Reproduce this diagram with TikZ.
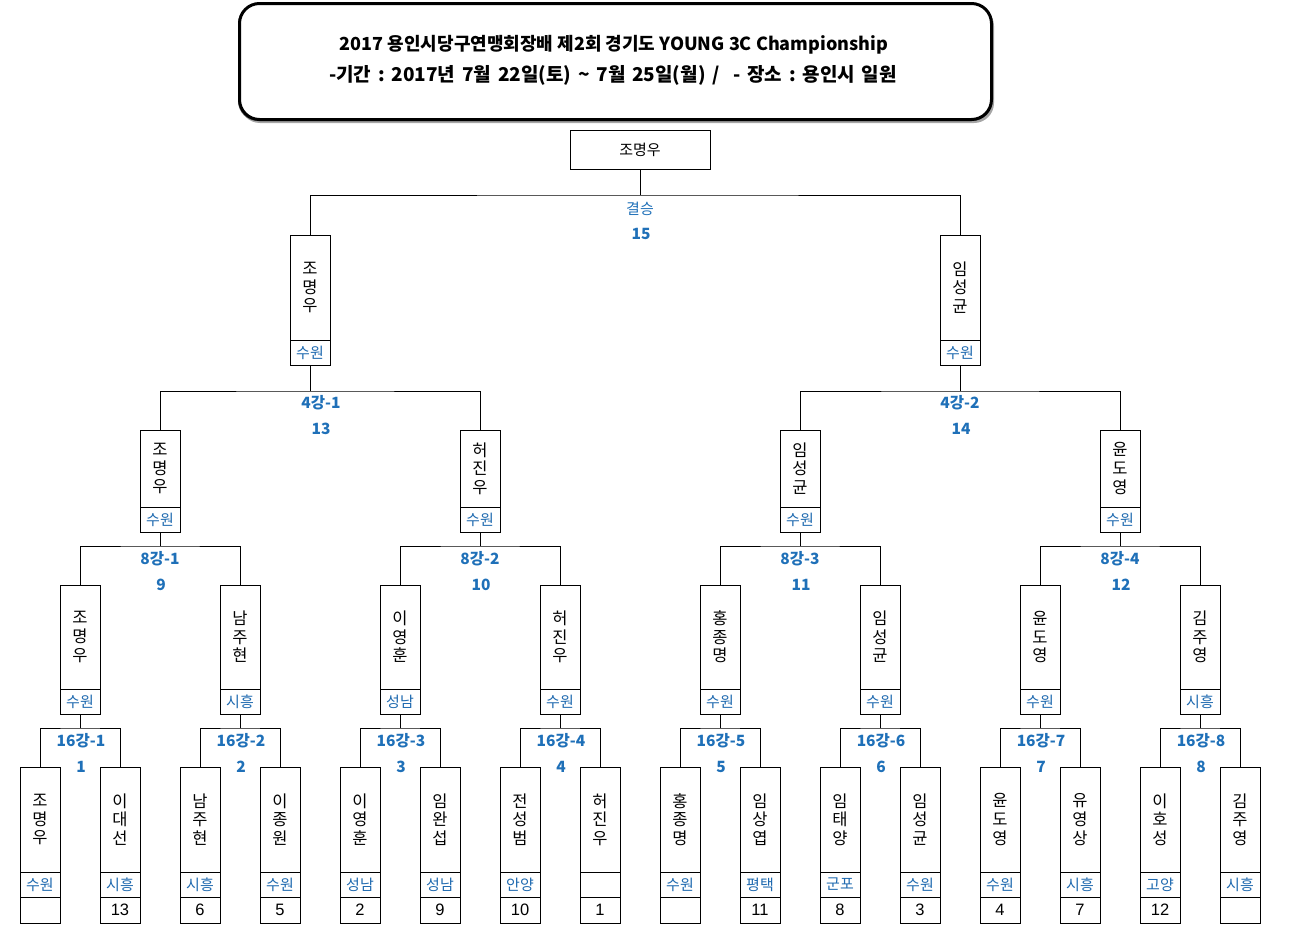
\documentclass[tikz,border=0pt]{standalone}
\usepackage{fontspec}
\setmainfont{Liberation Sans}
\newfontfamily\kr{Noto Sans CJK KR}
\newcommand\wsp{\hspace{6.8pt}}
\definecolor{lblue}{RGB}{31,112,184}
\definecolor{rblue}{RGB}{30,105,175}
\tikzset{
  base/.style={draw=black, line width=1pt, inner sep=0pt, outer sep=0pt, minimum width=40},
  namebox/.style={base, anchor=north, align=center, font=\kr\fontsize{16.5}{18.6}\selectfont},
  regbox/.style={base, anchor=north, minimum height=25, text=rblue, font=\kr\fontsize{15}{16}\selectfont},
  seedbox/.style={base, anchor=north, minimum height=26, font=\fontsize{16.5}{17}\selectfont},
  rlabel/.style={text=lblue, font=\kr\bfseries\fontsize{15.5}{17}\selectfont, inner sep=0pt},
  rlabelthin/.style={text=lblue, font=\kr\fontsize{15}{17}\selectfont, inner sep=0pt},
  wire/.style={line width=1pt, draw=black},
}
\newcommand\pbox[6]{%
  \node[namebox, minimum height=#4] (#1) at (#2,#3) {#5};
  \node[regbox] (#1r) at (#1.south) {#6};
}
\newcommand\seedb[2]{\node[seedbox] (#1s) at (#1r.south) {#2};}
\begin{document}
\begin{tikzpicture}[x=1pt,y=-1pt]
\useasboundingbox (0,0) rectangle (1291,937);
% title
\fill[black!35, rounded corners=20] (240,6) rectangle (994,123);
\fill[black!60, rounded corners=20] (238,4) rectangle (992,121);
\node[draw=black, line width=3pt, fill=white, rounded corners=20, minimum width=752, minimum height=116, anchor=north west, inner sep=0pt] (title) at (238,2) {};
\node[font=\kr\bfseries\fontsize{18}{20}\selectfont, inner sep=0pt] (t1) at (614,45) {2017 용인시당구연맹회장배 제2회 경기도 YOUNG 3C Championship};
\node[font=\kr\bfseries\fontsize{19}{20}\selectfont, inner sep=0pt] (t2) at (613,75) {-기간\wsp{}:\wsp{}2017년\wsp{}7월\wsp{}22일(토)\wsp{}\char"007E\wsp{}7월\wsp{}25일(월)\wsp{}/\wsp{}\wsp{}-\wsp{}장소\wsp{}:\wsp{}용인시\wsp{}일원};
% champion
\node[base, minimum width=140, minimum height=39, font=\kr\fontsize{15}{17}\selectfont] (champ) at (640,149.5) {조명우};
% semis
\pbox{S1}{310}{235}{105}{조\\명\\우}{수원}
\pbox{S2}{960}{235}{105}{임\\성\\균}{수원}
% quarter (4강)
\pbox{Q1}{160}{430}{77}{조\\명\\우}{수원}
\pbox{Q2}{480}{430}{77}{허\\진\\우}{수원}
\pbox{Q3}{800}{430}{77}{임\\성\\균}{수원}
\pbox{Q4}{1120}{430}{77}{윤\\도\\영}{수원}
% 8강
\pbox{E1}{80}{585}{104}{조\\명\\우}{수원}
\pbox{E2}{240}{585}{104}{남\\주\\현}{시흥}
\pbox{E3}{400}{585}{104}{이\\영\\훈}{성남}
\pbox{E4}{560}{585}{104}{허\\진\\우}{수원}
\pbox{E5}{720}{585}{104}{홍\\종\\명}{수원}
\pbox{E6}{880}{585}{104}{임\\성\\균}{수원}
\pbox{E7}{1040}{585}{104}{윤\\도\\영}{수원}
\pbox{E8}{1200}{585}{104}{김\\주\\영}{시흥}
% 16강 leaves
\pbox{L1}{40}{767}{105}{조\\명\\우}{수원}\seedb{L1}{}
\pbox{L2}{120}{767}{105}{이\\대\\선}{시흥}\seedb{L2}{13}
\pbox{L3}{200}{767}{105}{남\\주\\현}{시흥}\seedb{L3}{6}
\pbox{L4}{280}{767}{105}{이\\종\\원}{수원}\seedb{L4}{5}
\pbox{L5}{360}{767}{105}{이\\영\\훈}{성남}\seedb{L5}{2}
\pbox{L6}{440}{767}{105}{임\\완\\섭}{성남}\seedb{L6}{9}
\pbox{L7}{520}{767}{105}{전\\성\\범}{안양}\seedb{L7}{10}
\pbox{L8}{600}{767}{105}{허\\진\\우}{}\seedb{L8}{1}
\pbox{L9}{680}{767}{105}{홍\\종\\명}{수원}\seedb{L9}{}
\pbox{L10}{760}{767}{105}{임\\상\\엽}{평택}\seedb{L10}{11}
\pbox{L11}{840}{767}{105}{임\\태\\양}{군포}\seedb{L11}{8}
\pbox{L12}{920}{767}{105}{임\\성\\균}{수원}\seedb{L12}{3}
\pbox{L13}{1000}{767}{105}{윤\\도\\영}{수원}\seedb{L13}{4}
\pbox{L14}{1080}{767}{105}{유\\영\\상}{시흥}\seedb{L14}{7}
\pbox{L15}{1160}{767}{105}{이\\호\\성}{고양}\seedb{L15}{12}
\pbox{L16}{1240}{767}{105}{김\\주\\영}{시흥}\seedb{L16}{}
% junctions
\coordinate (jF) at (640,195);
\coordinate (jS1) at (310,391);
\coordinate (jS2) at (960,391);
\foreach \i/\x in {1/160,2/480,3/800,4/1120} {\coordinate (jQ\i) at (\x,546);}
\foreach \i/\x in {1/80,2/240,3/400,4/560,5/720,6/880,7/1040,8/1200} {\coordinate (jE\i) at (\x,728);}
% connectors
\draw[wire] (S1.north) |- (jF) -| (S2.north);
\draw[wire] (champ.south) -- (jF);
\draw[wire] (Q1.north) |- (jS1) -| (Q2.north);
\draw[wire] (S1r.south) -- (jS1);
\draw[wire] (Q3.north) |- (jS2) -| (Q4.north);
\draw[wire] (S2r.south) -- (jS2);
\foreach \i/\a/\b in {1/E1/E2,2/E3/E4,3/E5/E6,4/E7/E8} {
  \draw[wire] (\a.north) |- (jQ\i) -| (\b.north);
  \draw[wire] (Q\i r.south) -- (jQ\i);
}
\foreach \i/\a/\b in {1/L1/L2,2/L3/L4,3/L5/L6,4/L7/L8,5/L9/L10,6/L11/L12,7/L13/L14,8/L15/L16} {
  \draw[wire] (\a.north) |- (jE\i) -| (\b.north);
  \draw[wire] (E\i r.south) -- (jE\i);
}
% labels
\node[rlabelthin] (lF) at (640,209) {결승};
\node[rlabel] (nF) at (641,234) {15};
\node[rlabel] (lS1) at (321,403) {4강-1};
\node[rlabel] (nS1) at (321,429) {13};
\node[rlabel] (lS2) at (960,403) {4강-2};
\node[rlabel] (nS2) at (961,429) {14};
\foreach \i/\x/\n in {1/160/9,2/480/10,3/800/11,4/1120/12} {
  \node[rlabel] (lQ\i) at (\x,559) {8강-\i};
  \node[rlabel] (nQ\i) at (\x+1,585) {\n};
}
\foreach \i/\x in {1/80,2/240,3/400,4/560,5/720,6/880,7/1040,8/1200} {
  \node[rlabel] (lE\i) at (\x+1,741) {16강-\i};
  \node[rlabel] (nE\i) at (\x+1,767) {\i};
}
\end{tikzpicture}
\end{document}
